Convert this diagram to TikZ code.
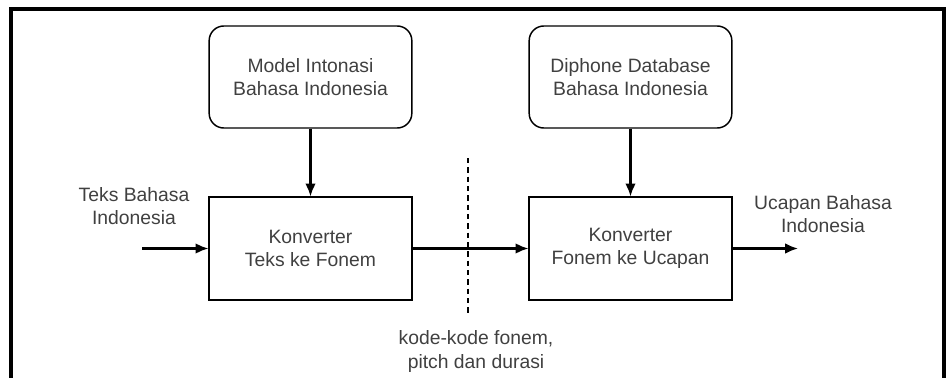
\documentclass[tikz,border=0pt]{standalone}
\usepackage{fontspec}
\setmainfont{Liberation Sans}
\usetikzlibrary{arrows.meta}

\begin{document}
\begin{tikzpicture}[x=0.75pt, y=-0.75pt, every node/.style={font=\fontsize{14.5}{17.3}\selectfont, text=black!75}, >={Latex[length=3.4mm, width=2.8mm]}, src/.style={draw, line width=1.1pt, rounded corners=11pt, minimum width=152pt, minimum height=76.5pt, align=center, inner sep=0pt}, conv/.style={draw, line width=1.1pt, minimum width=152pt, minimum height=77pt, align=center, inner sep=0pt}, lbl/.style={align=center, inner sep=0pt}, arr/.style={->, line width=1.6pt}]
	\useasboundingbox (0,0) rectangle (946,378);
	\draw[line width=2.3pt] (11,378) -- (11,9) -- (944,9) -- (944,378);
	\node[src] (mi) at (310.5,77) {Model Intonasi\\ Bahasa Indonesia};
	\node[src] (db) at (630.5,77) {Diphone Database\\ Bahasa Indonesia};
	\node[conv] (k1) at (310.5,248.5) {Konverter\\ Teks ke Fonem};
	\node[conv] (k2) at (630.5,248.5) {Konverter\\ Fonem ke Ucapan};
	\node[lbl] (tin) at (134,206.5) {Teks Bahasa\\ Indonesia};
	\node[lbl] (tout) at (823,214.5) {Ucapan Bahasa\\ Indonesia};
	\node[lbl] (kode) at (476,351.5) {kode-kode fonem,\\ pitch dan durasi};
	\coordinate (in) at (142,248.5);
	\coordinate (out) at (798,248.5);
	\coordinate (dtop) at (468,158);
	\coordinate (dbot) at (468,313);
	\draw[arr] (mi) -- (k1); \draw[arr] (db) -- (k2);
	\draw[arr] (in) -- (k1); \draw[arr] (k1) -- (k2); \draw[arr] (k2) -- (out);
	\draw[line width=0.9pt, dash pattern=on 4pt off 3pt] (dtop) -- (dbot);
\end{tikzpicture}
\end{document}
